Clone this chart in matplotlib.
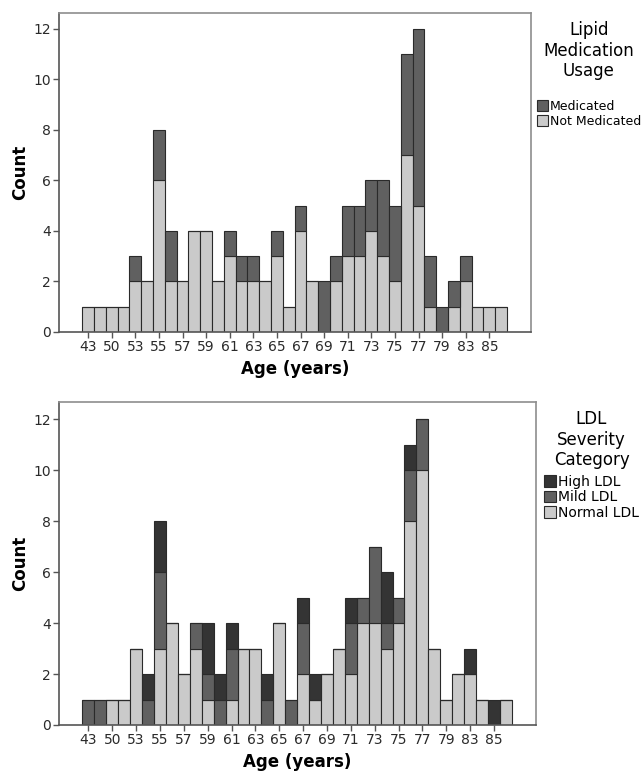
import matplotlib
matplotlib.use("Agg")
import matplotlib.pyplot as plt
import numpy as np

ages = ["43", "47", "50", "52", "53", "54", "55", "56", "57", "58", "59", "60",
        "61", "62", "63", "64", "65", "66", "67", "68", "69", "70", "71", "72",
        "73", "74", "75", "76", "77", "78", "79", "81", "83", "84", "85", "86"]

# Top panel: Lipid medication usage
not_medicated = [1, 1, 1, 1, 2, 2, 6, 2, 2, 4, 4, 2, 3, 2, 2, 2, 3, 1, 4, 2, 0, 2,
                 3, 3, 4, 3, 2, 7, 5, 1, 0, 1, 2, 1, 1, 1]
medicated = [0, 0, 0, 0, 1, 0, 2, 2, 0, 0, 0, 0, 1, 1, 1, 0, 1, 0, 1, 0, 2, 1,
             2, 2, 2, 3, 3, 4, 7, 2, 1, 1, 1, 0, 0, 0]

# Bottom panel: LDL severity category
normal_ldl = [0, 0, 1, 1, 3, 0, 3, 4, 2, 3, 1, 0, 1, 3, 3, 0, 4, 0, 2, 1, 2, 3,
              2, 4, 4, 3, 4, 8, 10, 3, 1, 2, 2, 1, 0, 1]
mild_ldl = [1, 1, 0, 0, 0, 1, 3, 0, 0, 1, 1, 1, 2, 0, 0, 1, 0, 1, 2, 0, 0, 0,
            2, 1, 3, 1, 1, 2, 2, 0, 0, 0, 0, 0, 0, 0]
high_ldl = [0, 0, 0, 0, 0, 1, 2, 0, 0, 0, 2, 1, 1, 0, 0, 1, 0, 0, 1, 1, 0, 0,
            1, 0, 0, 2, 0, 1, 0, 0, 0, 0, 1, 0, 1, 0]

tick_labels = ["43", "50", "53", "55", "57", "59", "61", "63", "65", "67", "69",
               "71", "73", "75", "77", "79", "83", "85"]

C_LIGHT = "#cacaca"
C_MID = "#606060"
C_DARK = "#343434"
EDGE = "#2a2a2a"
SPINE = "#8e8e8e"

fig = plt.figure(figsize=(6.42, 7.74), dpi=100)
W, H = 642, 774

def add_ax(left, top, right, bottom):
    return fig.add_axes([left / W, 1 - bottom / H, (right - left) / W, (bottom - top) / H])

ax1 = add_ax(59, 13, 531, 332)
ax2 = add_ax(59, 402, 536, 725)

x = np.arange(len(ages))

def style(ax, ytop):
    ax.set_xlim(-2.47, len(ages) - 1 + 2.53)
    ax.set_ylim(0, ytop)
    ax.set_yticks(range(0, 13, 2))
    ax.set_xticks(x[::2])
    ax.set_xticklabels(tick_labels)
    for s in ax.spines.values():
        s.set_color(SPINE)
        s.set_linewidth(1.2)
    ax.spines["left"].set_color("#555555")
    ax.spines["bottom"].set_color("#555555")
    ax.tick_params(axis="both", direction="out", length=4, width=1, color="#555555",
                   labelsize=10, labelcolor="#2a2a2a", pad=2)
    ax.set_ylabel("Count", fontsize=12, fontweight="bold", labelpad=3)
    ax.set_xlabel("Age (years)", fontsize=12, fontweight="bold", labelpad=4)

nm = np.array(not_medicated)
md = np.array(medicated)
b1 = ax1.bar(x, nm, width=1.0, color=C_LIGHT, edgecolor=EDGE, linewidth=0.8, label="Not Medicated")
b2 = ax1.bar(x, md, width=1.0, bottom=nm, color=C_MID, edgecolor=EDGE, linewidth=0.8, label="Medicated")
style(ax1, 12.63)

nl = np.array(normal_ldl)
ml = np.array(mild_ldl)
hl = np.array(high_ldl)
c1 = ax2.bar(x, nl, width=1.0, color=C_LIGHT, edgecolor=EDGE, linewidth=0.8, label="Normal LDL")
c2 = ax2.bar(x, ml, width=1.0, bottom=nl, color=C_MID, edgecolor=EDGE, linewidth=0.8, label="Mild LDL")
c3 = ax2.bar(x, hl, width=1.0, bottom=nl + ml, color=C_DARK, edgecolor=EDGE, linewidth=0.8, label="High LDL")
style(ax2, 12.67)

leg1 = fig.legend([b2, b1], ["Medicated", "Not Medicated"], title="Lipid\nMedication\nUsage",
                  loc="upper left", bbox_to_anchor=(528 / W, 1 - 12 / H), frameon=False,
                  fontsize=9, title_fontsize=12, handlelength=0.9, handleheight=0.9,
                  handletextpad=0.15, labelspacing=0.15, borderpad=0.2, alignment="center")
leg1.get_title().set_multialignment("center")
leg1._legend_box.sep = 14

leg2 = fig.legend([c3, c2, c1], ["High LDL", "Mild LDL", "Normal LDL"], title="LDL\nSeverity\nCategory",
                  loc="upper left", bbox_to_anchor=(534 / W, 1 - 400 / H), frameon=False,
                  fontsize=10, title_fontsize=12, handlelength=0.9, handleheight=0.9,
                  handletextpad=0.15, labelspacing=0.1, borderpad=0.2, alignment="center")
leg2.get_title().set_multialignment("center")
leg2._legend_box.sep = 4

fig.savefig("out.png", dpi=100)
